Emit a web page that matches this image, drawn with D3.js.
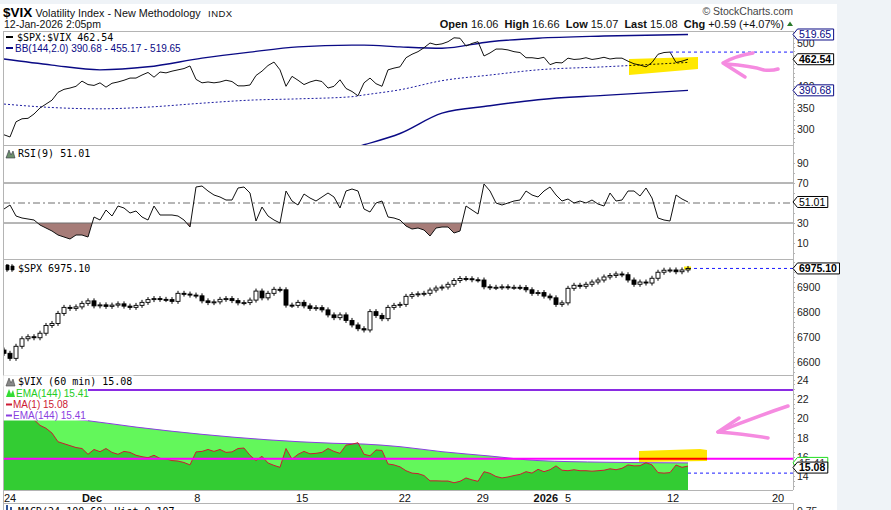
<!DOCTYPE html>
<html><head><meta charset="utf-8">
<script src="https://cdn.jsdelivr.net/npm/d3@7"></script>
<style>
body{margin:0;background:#eff3f7;}
svg{display:block;}
text{font-family:"Liberation Sans",Arial,sans-serif;}
.mono{font-family:"DejaVu Sans Mono",monospace;}
</style></head><body>
<svg id="c" width="891" height="510"></svg>
<script>
// ---------- DATA (hourly bars, sampled every 2nd bar) ----------
const ratio = [288,283,318,325,326,336,350,359,368,386,
 393,396,400,412,404,402,408,398,407,410,
 414,419,419,426,432,421,433,431,435,438,
 441,447,416,408,410,408,410,414,411,401,
 401,403,425,435,448,456,438,400,423,414,
 404,410,414,411,396,400,415,395,388,378,
 408,419,406,400,438,442,445,466,474,480,
 489,500,496,498,503,512,511,493,499,503,
 470,477,486,486,484,480,478,466,466,464,
 467,450,455,454,465,462,463,466,462,464,
 467,463,465,465,458,452,449,445,455,474,
 478,479,455,458,462.54];
const bbIdx   = [0,8,16,24,33,41,49,58,60,66,73,81,89,100,114];
const bbUpper = [463,449,438,445,465,479,491,495,495,491,488,503,511,516,519.65];
const bbMid   = [359,351,348,352,361,368,371,376,380,392,413,426,438,445,455.17];
const bbLower = [255,253,258,259,257,257,251,257,265,291,338,355,369,379,390.68];
const rsi = [44,48,37,35,34,33,28,25,22,18,
 16,14,18,18,16,36,33,43,37,47,
 45,40,42,36,33,47,38,38,38,37,
 33,26,66,67,62,58,56,53,53,65,
 66,60,32,46,37,33,30,62,52,48,
 59,55,52,56,60,56,45,62,64,62,
 44,41,50,52,36,35,33,27,24,25,
 23,17,25,26,26,20,22,47,43,39,
 69,62,50,48,50,52,53,62,58,56,
 62,66,58,52,54,50,52,50,53,49,
 47,60,52,53,62,62,57,65,55,35,
 33,32,58,54,51.01];
const spxFirstOpen = 6650;
const spx = [6637,6617,6665,6695,6703,6699,6717,6748,6756,6796,
 6820,6816,6822,6836,6846,6826,6830,6824,6829,6834,
 6825,6820,6828,6840,6851,6855,6852,6851,6844,6876,
 6873,6869,6866,6846,6839,6842,6852,6855,6847,6838,
 6839,6849,6885,6858,6876,6892,6890,6829,6828,6840,
 6826,6816,6819,6810,6790,6779,6790,6768,6750,6735,
 6730,6803,6788,6775,6820,6828,6832,6864,6871,6874,
 6876,6889,6897,6901,6912,6927,6935,6934,6930,6929,
 6902,6899,6900,6902,6900,6900,6899,6890,6876,6879,
 6865,6858,6832,6838,6896,6908,6904,6912,6921,6929,
 6941,6947,6953,6950,6929,6912,6921,6917,6936,6960,
 6968,6969,6962,6969,6975.10];
const vix = [23.0,23.4,21.0,20.6,20.6,19.9,19.3,19.0,18.5,17.6,
 17.4,17.2,17.0,16.9,16.3,16.8,16.57,16.9,16.5,16.3,
 16.6,16.5,16.2,16.05,15.95,16.2,15.88,15.82,15.65,15.6,
 15.45,15.2,16.55,16.6,16.8,16.6,16.8,16.5,16.55,16.9,
 16.95,16.2,15.65,16.1,15.4,15.15,14.95,16.9,15.8,16.3,
 16.6,16.35,16.4,16.5,16.9,16.6,16.4,17.25,17.35,17.5,
 16.3,16.15,16.75,16.7,15.3,15.2,15.0,14.6,14.35,14.3,
 14.1,13.55,13.55,13.53,13.53,13.35,13.5,13.85,13.65,13.5,
 14.5,14.33,14.0,13.85,13.95,14.1,14.22,14.5,14.35,14.74,
 14.5,14.7,15.1,14.65,14.6,14.7,14.6,14.6,14.55,14.6,
 14.65,14.8,14.7,14.85,15.2,15.1,15.12,15.43,15.2,14.4,
 14.35,14.4,15.19,14.95,15.08];
const emaIdx = [0,7,14,22,33,44,55,60,66,73,81,89,100,114];
const ema    = [20.6,20.2,19.78,19.12,18.37,17.8,17.44,17.36,17.09,16.57,16.12,15.65,15.48,15.41];
const vixLevelHigh = 22.96, vixLevelLow = 15.85, vixDash = 14.35;
const ratioDash = 479;
const xTickPos    = [1,14.67,32.2,49.7,66.8,79.8,90.3,94,111.5,129];
const xTickLabels = ["24","Dec","8","15","22","29","2026","5","12","20"];
const xTickBold   = [false,true,false,false,false,false,true,false,false,false];
const ticks1 = [300,350,400,500], ticks2 = [10,30,70,90], ticks3 = [6600,6700,6800,6900], ticks4 = [14,16,18,20,22,24];

// ---------- SETUP ----------
const svg = d3.select('#c');
svg.append('rect').attr('x',0).attr('y',4).attr('width',837).attr('height',506).attr('fill','#fff');
const defs = svg.append('defs');
const L = 3, R = 793;
const P = [[31,145],[145,259.5],[259.5,375],[375,490]];
P.forEach((p,i)=>defs.append('clipPath').attr('id','cp'+i).append('rect')
  .attr('x',L).attr('y',p[0]).attr('width',R-L).attr('height',p[1]-p[0]));

const x = d3.scaleLinear().domain([0,131.5]).range([4,793]);
const y1 = d3.scaleLinear().domain([300,500]).range([129.6,43]);
const y2 = d3.scaleLinear().domain([30,70]).range([223,183]);
const y3 = d3.scaleLinear().domain([6600,6900]).range([362.6,287.3]);
const y4 = d3.scaleLinear().domain([14,24]).range([476.5,380]);

const lineI = ys => d3.line().x((d,i)=>x(i)).y(d=>ys(d));
const lineS = (ys, ix) => d3.line().x((d,i)=>x(ix[i])).y(d=>ys(d)).curve(d3.curveMonotoneX);

// ---------- PANEL 1 : $SPX:$VIX with BB ----------
const g1 = svg.append('g').attr('clip-path','url(#cp0)');
g1.append('path').datum(bbUpper).attr('d',lineS(y1,bbIdx)).attr('fill','none').attr('stroke','#0a0a85').attr('stroke-width',1.4);
g1.append('path').datum(bbLower).attr('d',lineS(y1,bbIdx)).attr('fill','none').attr('stroke','#0a0a85').attr('stroke-width',1.4);
g1.append('path').datum(bbMid).attr('d',lineS(y1,bbIdx)).attr('fill','none').attr('stroke','#1a1aa0').attr('stroke-width',1).attr('stroke-dasharray','2,2');
g1.append('path').datum(ratio).attr('d',lineI(y1)).attr('fill','none').attr('stroke','#111').attr('stroke-width',1);
g1.append('line').attr('x1',x(111)).attr('x2',R).attr('y1',y1(ratioDash)).attr('y2',y1(ratioDash))
  .attr('stroke','#1a1aff').attr('stroke-dasharray','3,3');
g1.append('path').attr('d','M629,59 L698,57 L698,69 L629,75 Z').attr('fill','#ffe800').style('mix-blend-mode','multiply');

// ---------- PANEL 2 : RSI ----------
const g2 = svg.append('g').attr('clip-path','url(#cp1)');
defs.append('clipPath').attr('id','rsiLow').append('rect').attr('x',L).attr('y',y2(30)).attr('width',R-L).attr('height',40);
g2.append('path').datum(rsi).attr('clip-path','url(#rsiLow)')
  .attr('d',d3.area().x((d,i)=>x(i)).y0(y2(30)).y1(d=>y2(d))).attr('fill','#a67c78');
[70,30].forEach(v=>g2.append('line').attr('x1',L).attr('x2',R).attr('y1',y2(v)).attr('y2',y2(v)).attr('stroke','#6f6f6f'));
g2.append('line').attr('x1',L).attr('x2',R).attr('y1',y2(50)).attr('y2',y2(50)).attr('stroke','#6f6f6f').attr('stroke-dasharray','7,3,2,3');
g2.append('path').datum(rsi).attr('d',lineI(y2)).attr('fill','none').attr('stroke','#111').attr('stroke-width',1);

// ---------- PANEL 3 : $SPX candles ----------
const g3 = svg.append('g').attr('clip-path','url(#cp2)');
spx.forEach((c,i)=>{
  const o = i===0 ? spxFirstOpen : spx[i-1];
  const top = y3(Math.max(o,c)), bot = y3(Math.min(o,c));
  const cx = x(i);
  g3.append('line').attr('x1',cx).attr('x2',cx).attr('y1',top-2.5).attr('y2',bot+2.5).attr('stroke','#000');
  g3.append('rect').attr('x',cx-2).attr('y',top).attr('width',4).attr('height',Math.max(1,bot-top))
    .attr('fill', c>=o ? '#fff' : '#000').attr('stroke','#000').attr('stroke-width',0.9);
});
g3.append('line').attr('x1',x(114)).attr('x2',R).attr('y1',y3(spx[114])).attr('y2',y3(spx[114]))
  .attr('stroke','#1a1aff').attr('stroke-dasharray','3,3');
g3.append('rect').attr('x',684).attr('y',266.5).attr('width',7).attr('height',3).attr('fill','#ffee00').style('mix-blend-mode','multiply');

// ---------- PANEL 4 : $VIX ----------
const g4 = svg.append('g').attr('clip-path','url(#cp3)');
g4.append('path').datum(ema).attr('d',d3.area().x((d,i)=>x(emaIdx[i])).y0(490).y1(d=>y4(d)).curve(d3.curveMonotoneX)).attr('fill','#63f75b');
g4.append('path').datum(vix).attr('d',d3.area().x((d,i)=>x(i)).y0(490).y1(d=>y4(d))).attr('fill','#33cc33');
g4.append('path').datum(ema).attr('d',lineS(y4,emaIdx)).attr('fill','none').attr('stroke','#8a3ee0').attr('stroke-width',1);
g4.append('path').datum(vix).attr('d',lineI(y4)).attr('fill','none').attr('stroke','#cc1a33').attr('stroke-width',1);
g4.append('line').attr('x1',L).attr('x2',R).attr('y1',y4(vixLevelHigh)).attr('y2',y4(vixLevelHigh)).attr('stroke','#8a2be2').attr('stroke-width',2);
g4.append('line').attr('x1',L).attr('x2',R).attr('y1',y4(vixLevelLow)).attr('y2',y4(vixLevelLow)).attr('stroke','#ff00ff').attr('stroke-width',2);
g4.append('line').attr('x1',x(114)).attr('x2',R).attr('y1',y4(vixDash)).attr('y2',y4(vixDash)).attr('stroke','#1a1aff').attr('stroke-dasharray','3,3');
g4.append('path').attr('d','M639,451 L700,449 L707,450 L707,461 L639,462 Z').attr('fill','#ffe400').style('mix-blend-mode','multiply');

// ---------- pink annotations ----------
const pink = svg.append('g').attr('fill','none').attr('stroke','#f58be0').attr('stroke-width',3.5).attr('stroke-linecap','round').attr('stroke-linejoin','round');
pink.append('path').attr('d','M753,53 Q735,56 723,63 L745,77');
pink.append('path').attr('d','M726,64 Q752,66 764,70 Q772,71 778,69');
pink.append('path').attr('d','M788,406 Q752,418 718,432');
pink.append('path').attr('d','M739,418 L718,432 Q745,434 768,438');

// ---------- frames ----------
const frame = svg.append('g').attr('stroke','#b4b4b4').attr('stroke-width',1).attr('shape-rendering','crispEdges');
[31,145,259.5,375,490,503].forEach(yv=>frame.append('line').attr('x1',L).attr('x2',R).attr('y1',yv).attr('y2',yv));
frame.append('line').attr('x1',L).attr('x2',L).attr('y1',31).attr('y2',510);
frame.append('line').attr('x1',R).attr('x2',R).attr('y1',31).attr('y2',490);
frame.append('line').attr('x1',R).attr('x2',R).attr('y1',503).attr('y2',510);

// minor ticks on right axis
function minor(ys, lo, hi, step, y0, y1v){
  d3.range(lo, hi+1e-9, step).forEach(v=>{const yy=ys(v); if(yy>y0+1&&yy<y1v-1)
    frame.append('line').attr('x1',R).attr('x2',R+2).attr('y1',yy).attr('y2',yy);});
}
minor(y1,260,520,10,31,145); minor(y2,-10,110,10,145,259.5); minor(y3,6560,7000,20,259.5,375); minor(y4,12,25,0.5,375,490);

// axis tick labels
const ax = svg.append('g').attr('font-size',10.5).attr('fill','#222');
function tl(ys, vals){ vals.forEach(v=>ax.append('text').attr('x',797).attr('y',ys(v)+3.8).text(v)); }
tl(y1,ticks1); tl(y2,ticks2); tl(y3,ticks3); tl(y4,ticks4);

// value boxes
function box(yy, txt, col, bold, txtCol){
  const g = svg.append('g');
  const t = g.append('text').attr('x',799).attr('y',yy+3.8).attr('font-size',10.5)
    .attr('font-weight',bold?'bold':'normal').attr('fill',txtCol||col).text(txt);
  const w = t.node().getComputedTextLength();
  g.insert('path','text').attr('d',`M${R},${yy} L${R+4.5},${yy-5.5} L${800+w+1.5},${yy-5.5} L${800+w+1.5},${yy+5.5} L${R+4.5},${yy+5.5} Z`)
    .attr('fill','#fff').attr('stroke',col).attr('stroke-width',1);
}
box(y1(bbUpper[bbUpper.length-1]),'519.65','#0a0a85',false);
box(y1(bbLower[bbLower.length-1]),'390.68','#0a0a85',false);
box(y1(ratio[114]),'462.54','#000',true);
box(y2(rsi[114]),'51.01','#000',false);
box(y3(spx[114]),'6975.10','#000',true);
box(y4(ema[ema.length-1]),'15.41','#22e022',false,'#333');
box(y4(vix[114])+1.5,'15.08','#000',true);

// x axis labels
const xl = svg.append('g').attr('font-size',11).attr('fill','#111').attr('text-anchor','middle');
xTickPos.forEach((p,i)=>xl.append('text').attr('x',x(p)).attr('y',501.5).attr('font-weight',xTickBold[i]?'bold':'normal').text(xTickLabels[i]));

// ---------- header ----------
svg.append('text').attr('x',3).attr('y',17).attr('font-size',13.5).attr('font-weight','bold').text('$VIX');
svg.append('text').attr('x',35.5).attr('y',16.5).attr('font-size',10.8).attr('fill','#111').text('Volatility Index - New Methodology');
svg.append('text').attr('x',208).attr('y',16.5).attr('font-size',9.5).attr('fill','#111').attr('letter-spacing',0.5).text('INDX');
svg.append('text').attr('x',4).attr('y',28).attr('font-size',10.5).attr('fill','#111').text('12-Jan-2026 2:05pm');
svg.append('text').attr('x',793).attr('y',15).attr('text-anchor','end').attr('font-size',10.5).attr('fill','#444').text('\u00A9 StockCharts.com');
const st = svg.append('text').attr('x',784).attr('y',28).attr('text-anchor','end').attr('font-size',11).attr('fill','#111').attr('style','white-space:pre');
[['Open',1],[' 16.06  ',0],['High',1],[' 16.66  ',0],['Low',1],[' 15.07  ',0],['Last',1],[' 15.08  ',0],['Chg',1],[' +0.59 (+4.07%)',0]]
  .forEach(s=>st.append('tspan').attr('font-weight',s[1]?'bold':'normal').text(s[0]));
svg.append('path').attr('d','M787,26 L790,21.5 L793,26 Z').attr('fill','#2a7a2a');

// ---------- legends ----------
const lg = svg.append('g');
lg.append('line').attr('x1',6).attr('x2',13).attr('y1',37).attr('y2',37).attr('stroke','#000').attr('stroke-width',2);
lg.append('text').attr('class','mono').attr('x',17).attr('y',40.5).attr('font-size',10).text('$SPX:$VIX 462.54');
lg.append('line').attr('x1',6).attr('x2',13).attr('y1',48).attr('y2',48).attr('stroke','#0a0a85').attr('stroke-width',2);
lg.append('text').attr('x',15).attr('y',51.5).attr('font-size',10).attr('fill','#0a0a85').text('BB(144,2.0) 390.68 - 455.17 - 519.65');

lg.append('path').attr('d','M6,158 L9,150 L11,155 L13,151 L15,158 Z').attr('fill','#6d8f6d').attr('stroke','#334').attr('stroke-width',0.6);
lg.append('text').attr('class','mono').attr('x',18).attr('y',156.5).attr('font-size',10).text('RSI(9) 51.01');

lg.append('path').attr('d','M7,264 v8 M6,265 h3 v5 h-3 z M12,264 v8 M11,266 h3 v4 h-3 z').attr('fill','#000').attr('stroke','#000').attr('stroke-width',0.8);
lg.append('text').attr('class','mono').attr('x',18).attr('y',271.5).attr('font-size',10).text('$SPX 6975.10');

// VIX legend with white background
lg.append('rect').attr('x',3.5).attr('y',375.5).attr('width',84.5).attr('height',45).attr('fill','#fff');
lg.append('rect').attr('x',3.5).attr('y',375.5).attr('width',130).attr('height',11).attr('fill','#fff');
lg.append('path').attr('d','M6,386 L9,378 L11,383 L13,379 L15,386 Z').attr('fill','#888').attr('stroke','#444').attr('stroke-width',0.6);
lg.append('text').attr('class','mono').attr('x',18).attr('y',385).attr('font-size',10).text('$VIX (60 min) 15.08');
lg.append('path').attr('d','M6,397 L9,389 L11,394 L13,390 L15,397 Z').attr('fill','#33dd33');
lg.append('text').attr('x',16).attr('y',397).attr('font-size',10).attr('fill','#22cc22').text('EMA(144) 15.41');
lg.append('line').attr('x1',6).attr('x2',12).attr('y1',404.5).attr('y2',404.5).attr('stroke','#cc1a33').attr('stroke-width',2);
lg.append('text').attr('x',13).attr('y',408).attr('font-size',10).attr('fill','#cc1a33').text('MA(1) 15.08');
lg.append('line').attr('x1',6).attr('x2',12).attr('y1',415.5).attr('y2',415.5).attr('stroke','#8a3ee0').attr('stroke-width',2);
lg.append('text').attr('x',13).attr('y',419).attr('font-size',10).attr('fill','#8a3ee0').text('EMA(144) 15.41');

// bottom (cut-off) MACD panel
lg.append('path').attr('d','M7,505 v8 M11,507 v6').attr('stroke','#335599').attr('stroke-width',2);
lg.append('text').attr('class','mono').attr('x',18).attr('y',514.5).attr('font-size',10).text('MACD(24,100,60) Hist 0.107');
ax.append('text').attr('x',797).attr('y',515).text('0.75');
</script>
</body></html>
